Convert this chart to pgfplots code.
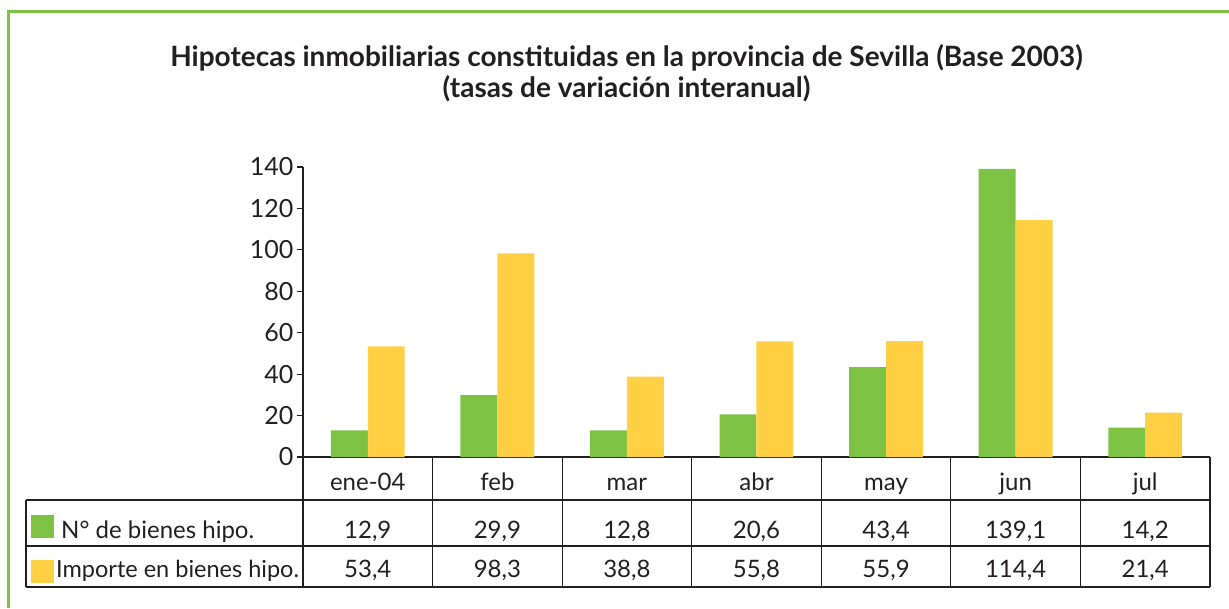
\documentclass[border=0pt]{standalone}
\usepackage{fontspec}
\setmainfont{Lato}
\usepackage{pgfplots}
\pgfplotsset{compat=1.18}
\usepackage{pgfplotstable}
\definecolor{barG}{HTML}{7DC242}
\definecolor{barY}{HTML}{FFCF44}
\definecolor{ink}{HTML}{231F20}

\pgfplotstableread{
x g y
0 12.9 53.4
1 29.9 98.3
2 12.8 38.8
3 20.6 55.8
4 43.4 55.9
5 139.1 114.4
6 14.2 21.4
}\datatable

\begin{document}
\begin{tikzpicture}[x=1pt,y=1pt]
\useasboundingbox (-303,-151) rectangle (926,457);
\draw[barG, line width=3pt] (-294,-151) -- (-294,445) -- (926,445);
\node[font=\fontsize{28}{31}\selectfont\bfseries, align=center, text=ink] at (323.5,384)
  {Hipotecas inmobiliarias constituidas en la provincia de Sevilla (Base 2003)\\(tasas de variación interanual)};
\begin{axis}[
  at={(0pt,0pt)}, anchor=south west, scale only axis,
  width=907pt, height=290pt,
  xmin=-0.5, xmax=6.5, ymin=0, ymax=140, clip=false,
  axis x line*=bottom, axis y line*=left,
  axis line style={ink, line width=1.2pt},
  ytick={0,20,...,140},
  xtick={0,...,6}, xticklabels={ene-04,feb,mar,abr,may,jun,jul},
  x tick style={draw=none},
  y tick style={ink, line width=1.2pt},
  major tick length=6pt, tick align=outside,
  ticklabel style={font=\fontsize{25}{30}\selectfont, text=ink},
  xticklabel style={anchor=base, yshift=-27pt, font=\fontsize{24}{30}\selectfont},
  /pgf/number format/assume math mode=true,
]
\addplot[ybar, bar width=0.285, bar shift=-0.1425, fill=barG, draw=none] table[x=x, y=g] {\datatable};
\addplot[ybar, bar width=0.285, bar shift=0.1425, fill=barY, draw=none] table[x=x, y=y] {\datatable};
\addplot[draw=none, mark=none, point meta=explicit, nodes near coords={\pgfmathprintnumber[fixed, fixed zerofill, precision=1, use comma, assume math mode=true]{\pgfplotspointmeta}},
  nodes near coords align={anchor=base},
  nodes near coords style={font=\fontsize{24}{30}\selectfont, text=ink, yshift=-81pt, inner sep=0pt}]
  table[x=x, y expr=0, meta=g] {\datatable};
\addplot[draw=none, mark=none, point meta=explicit, nodes near coords={\pgfmathprintnumber[fixed, fixed zerofill, precision=1, use comma, assume math mode=true]{\pgfplotspointmeta}},
  nodes near coords align={anchor=base},
  nodes near coords style={font=\fontsize{24}{30}\selectfont, text=ink, yshift=-120pt, inner sep=0pt}]
  table[x=x, y expr=0, meta=y] {\datatable};
\end{axis}
% data table grid
\begin{scope}[ink, line width=1.2pt]
\draw (-277,-43) -- (907,-43);
\draw (-277,-89) -- (907,-89);
\draw (-277,-130) -- (907,-130);
\draw (-277,-43) -- (-277,-130);
\foreach \k in {0,...,7} {\draw ({\k*129.571},0) -- ({\k*129.571},-130);}
\end{scope}
\fill[barG] (-272,-58) rectangle (-249,-81);
\fill[barY] (-272,-103) rectangle (-249,-126);
\node[anchor=base west, inner sep=0pt, font=\fontsize{24}{30}\selectfont, text=ink] at (-242,-81) {N° de bienes hipo.};
\node[anchor=base west, inner sep=0pt, font=\fontsize{23.5}{30}\selectfont, text=ink] at (-247,-120) {Importe en bienes hipo.};
\end{tikzpicture}
\end{document}
